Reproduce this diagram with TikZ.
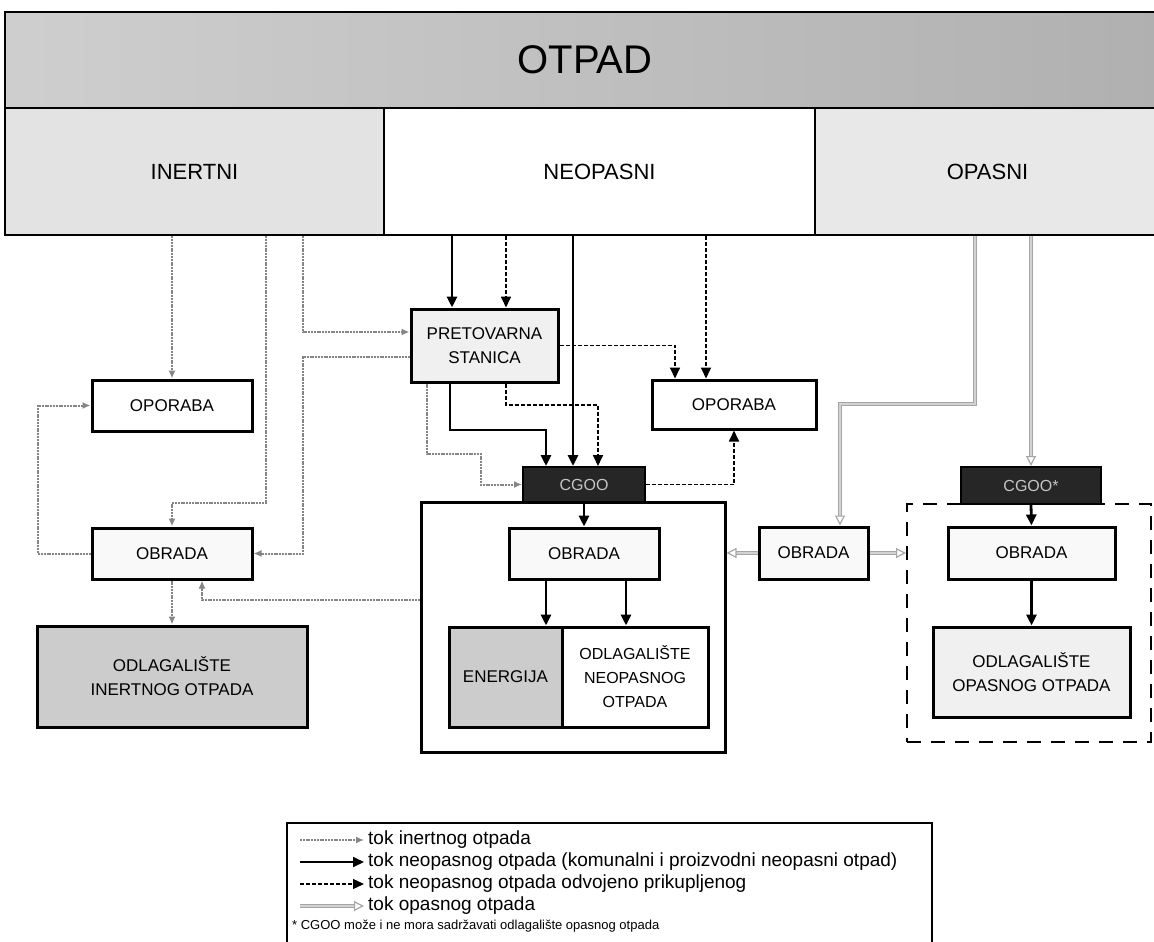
\documentclass[tikz,border=0pt]{standalone}
\usepackage{fontspec}
\setmainfont{Liberation Sans}
\usetikzlibrary{arrows.meta,calc}
\begin{document}
\begin{tikzpicture}[x=1pt,y=-1pt,
  box/.style={draw=black, line width=3pt, align=center, inner sep=0pt, fill=white,
    font=\fontsize{17}{24}\selectfont},
  cat/.style={draw=black, line width=2.8pt, align=center, inner sep=0pt,
    font=\fontsize{22}{26}\selectfont},
  dark/.style={draw=black, line width=2pt, fill=black!85, text=gray!45, inner sep=0pt,
    font=\fontsize{16}{20}\selectfont},
  inert/.style={draw=gray!40!black!60, line width=2pt, dash pattern=on 2pt off 0.8pt,
    -{Latex[length=8pt,width=7pt]}},
  neo/.style={draw=black, line width=2.8pt, -{Triangle[length=11pt,width=10pt]}},
  odv/.style={draw=black, line width=1.7pt, dash pattern=on 4pt off 2pt,
    -{Triangle[length=11pt,width=10pt]}},
  opas/.style={draw=gray!70, line width=1.2pt, double=gray!35, double distance=1.2pt,
    -{Triangle[open,length=10pt,width=10pt]}},
  legtext/.style={anchor=west, inner sep=0pt, font=\fontsize{19}{22}\selectfont},
]
\useasboundingbox (0,0) rectangle (1154,942);

% top band
\node[cat, left color=gray!38, right color=gray!62, minimum width=1160pt, minimum height=96pt,
  font=\fontsize{40}{44}\selectfont] (otpad) at (585,60) {OTPAD};
\node[cat, fill=gray!22, minimum width=379pt, minimum height=127pt] (inertni) at (194.5,171.5) {INERTNI};
\node[cat, fill=white, minimum width=431pt, minimum height=127pt] (neopasni) at (599.5,171.5) {NEOPASNI};
\node[cat, fill=gray!18, minimum width=345pt, minimum height=127pt] (opasni) at (987.5,171.5) {OPASNI};

% boxes
\node[box, fill=gray!12, minimum width=147pt, minimum height=73pt] (pret) at (484.5,345.5) {PRETOVARNA\\STANICA};
\node[box, minimum width=160pt, minimum height=51pt] (opL) at (172,405.5) {OPORABA};
\node[box, fill=gray!5, minimum width=160pt, minimum height=51pt] (obL) at (172,553.5) {OBRADA};
\node[box, fill=gray!40, minimum width=270pt, minimum height=101pt] (odlI) at (172,676.5) {ODLAGALIŠTE\\INERTNOG OTPADA};
\node[box, minimum width=164pt, minimum height=49pt] (opR) at (734,404.5) {OPORABA};

\node[box, fill=none, minimum width=304pt, minimum height=250pt] (bigN) at (573,627) {};
\node[dark, minimum width=122pt, minimum height=35pt] (cgoo) at (584,484.5) {CGOO};
\node[box, fill=gray!5, minimum width=150pt, minimum height=51pt] (obC) at (584,553.5) {OBRADA};
\node[box, fill=gray!40, minimum width=113pt, minimum height=100pt] (energ) at (505.5,677) {ENERGIJA};
\node[box, minimum width=146pt, minimum height=100pt, font=\fontsize{16}{24}\selectfont] (odlN) at (635,677) {ODLAGALIŠTE\\NEOPASNOG\\OTPADA};

\node[box, fill=gray!5, minimum width=109pt, minimum height=52pt] (obM) at (813.5,553) {OBRADA};

\node[draw=black, line width=2pt, dash pattern=on 14pt off 10pt, minimum width=244pt, minimum height=238pt] (dashbox) at (1029,623) {};
\node[dark, minimum width=140pt, minimum height=37pt] (cgooR) at (1031,485.5) {CGOO*};
\node[box, fill=gray!5, minimum width=167pt, minimum height=52pt] (obR) at (1031.5,553) {OBRADA};
\node[box, fill=gray!12, minimum width=197pt, minimum height=90pt] (odlO) at (1031.5,672) {ODLAGALIŠTE\\OPASNOG OTPADA};

% helper coordinates
\coordinate (a1) at (266,503);
\coordinate (a2) at (303,332);
\coordinate (a3) at (303,357);
\coordinate (a4) at (38,0);
\coordinate (a5) at (202,600);
\coordinate (a6) at (427,454);
\coordinate (a7) at (481,454);
\coordinate (b1) at (452,0);
\coordinate (b2) at (506,405);
\coordinate (b3) at (598,405);
\coordinate (b4) at (450,430);
\coordinate (b5) at (546,430);
\coordinate (b6) at (573,0);
\coordinate (b7) at (706,0);
\coordinate (b8) at (675,0);
\coordinate (b9) at (626,0);
\coordinate (b10) at (546,0);
\coordinate (c1) at (975,404);
\coordinate (c2) at (840,404);
\coordinate (c3) at (1031,0);

% inertni flows
\draw[inert] (inertni.south -| opL.north) -- (opL.north);
\draw[inert] (inertni.south -| a1) -- (a1) -| (obL.north);
\draw[inert] (inertni.south -| a2) -- (a2) -- (pret.west |- a2);
\draw[inert] (pret.west |- a3) -- (a3) |- (obL.east);
\draw[inert] (obL.west) -- (obL.west -| a4) -- (opL.west -| a4) -- (opL.west);
\draw[inert] (obL.south) -- (odlI.north);
\draw[inert] (bigN.west |- a5) -- (a5) -- (obL.south -| a5);
\draw[inert] (pret.south -| a6) -- (a6) -- (a7) |- (cgoo.west);

% neopasni flows
\draw[neo] (neopasni.south -| b1) -- (pret.north -| b1);
\draw[odv] (neopasni.south -| b2) -- (pret.north -| b2);
\draw[neo] (neopasni.south -| b6) -- (cgoo.north -| b6);
\draw[odv] (neopasni.south -| b7) -- (opR.north -| b7);
\draw[odv] (pret.east) -| (opR.north -| b8);
\draw[odv] (pret.south -| b2) -- (b2) -- (b3) -- (cgoo.north -| b3);
\draw[neo] (pret.south -| b4) -- (b4) -- (b5) -- (cgoo.north -| b5);
\draw[odv] (cgoo.east) -| (opR.south);
\draw[neo] (cgoo.south) -- (obC.north);
\draw[neo] (obC.south -| b10) -- (energ.north -| b10);
\draw[neo] (obC.south -| b9) -- (odlN.north -| b9);

% opasni flows
\draw[opas] (opasni.south -| c1) -- (c1) -- (c2) -- (obM.north -| c2);
\draw[opas] (opasni.south -| c3) -- (cgooR.north -| c3);
\draw[opas] (obM.west) -- (bigN.east |- obM.west);
\draw[opas] (obM.east) -- (dashbox.west |- obM.east);
\draw[neo] (cgooR.south) -- (obR.north);
\draw[neo] (obR.south) -- (odlO.north);

% legend
\node[draw=black, line width=2.2pt, minimum width=645pt, minimum height=140pt] (legend) at (609.5,893) {};
\coordinate (l1s) at (300,840); \coordinate (l1e) at (364,840);
\coordinate (l2s) at (300,862); \coordinate (l2e) at (364,862);
\coordinate (l3s) at (300,884); \coordinate (l3e) at (364,884);
\coordinate (l4s) at (300,906); \coordinate (l4e) at (364,906);
\draw[inert, line width=1.5pt] (l1s) -- (l1e);
\draw[neo, line width=1.9pt] (l2s) -- (l2e);
\draw[odv, line width=1.3pt] (l3s) -- (l3e);
\draw[opas] (l4s) -- (l4e);
\node[legtext] (t1) at (368,840) {tok inertnog otpada};
\node[legtext] (t2) at (368,862) {tok neopasnog otpada (komunalni i proizvodni neopasni otpad)};
\node[legtext] (t3) at (368,884) {tok neopasnog otpada odvojeno prikupljenog};
\node[legtext] (t4) at (368,906) {tok opasnog otpada};
\node[legtext, font=\fontsize{13}{15}\selectfont] (t5) at (292,926) {* CGOO može i ne mora sadržavati odlagalište opasnog otpada};
\end{tikzpicture}
\end{document}
